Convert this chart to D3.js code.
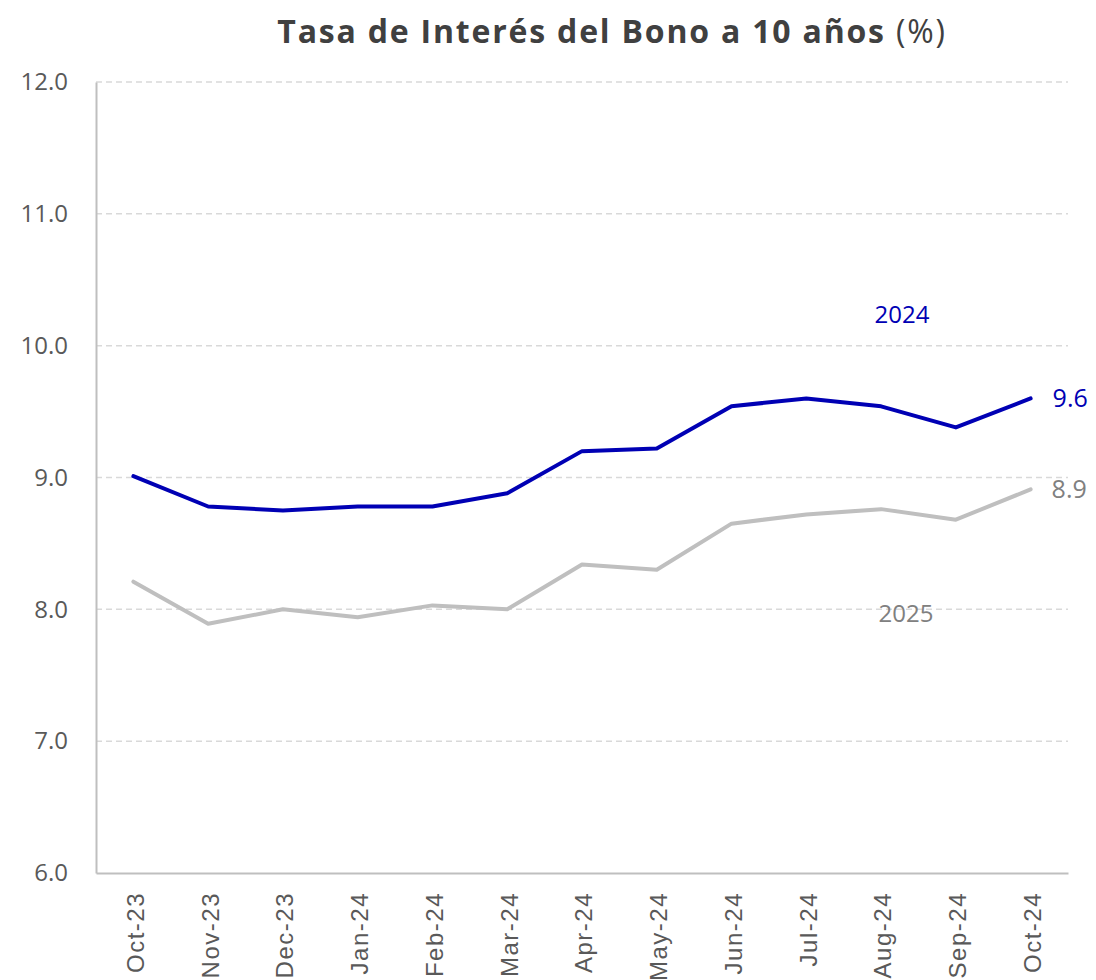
<!DOCTYPE html>
<html>
<head>
<meta charset="utf-8">
<script src="https://cdn.jsdelivr.net/npm/d3@7"></script>
<style>
  body { margin: 0; background: #fff; }
  svg { display: block; }
</style>
</head>
<body>
<script>
var width = 1096, height = 980;

var months = ["Oct-23", "Nov-23", "Dec-23", "Jan-24", "Feb-24", "Mar-24", "Apr-24",
              "May-24", "Jun-24", "Jul-24", "Aug-24", "Sep-24", "Oct-24"];
var serie2024 = [9.01, 8.78, 8.75, 8.78, 8.78, 8.88, 9.20, 9.22, 9.54, 9.60, 9.54, 9.38, 9.60];
var serie2025 = [8.21, 7.89, 8.00, 7.94, 8.03, 8.00, 8.34, 8.30, 8.65, 8.72, 8.76, 8.68, 8.91];
var yTicks = [6, 7, 8, 9, 10, 11, 12];

var margin = { left: 96, right: 28, top: 82, bottom: 107 };
var font = "'Open Sans', Lato, sans-serif";

var x = d3.scaleBand()
    .domain(months)
    .range([margin.left, width - margin.right]);

var y = d3.scaleLinear()
    .domain([6, 12])
    .range([height - margin.bottom, margin.top]);

var svg = d3.select("body").append("svg")
    .attr("width", width)
    .attr("height", height);

// title
var title = svg.append("text")
    .attr("x", 612)
    .attr("y", 43)
    .attr("text-anchor", "middle")
    .attr("font-family", font)
    .attr("font-size", 32)
    .attr("letter-spacing", 1.8)
    .attr("fill", "#404040");
title.append("tspan").attr("font-weight", "bold").text("Tasa de Interés del Bono a 10 años");
title.append("tspan").text(" (%)");

// gridlines
svg.append("g")
    .selectAll("line")
    .data(yTicks.slice(1))
    .enter().append("line")
    .attr("x1", margin.left)
    .attr("x2", width - margin.right)
    .attr("y1", function(d) { return y(d); })
    .attr("y2", function(d) { return y(d); })
    .attr("stroke", "#d9d9d9")
    .attr("stroke-width", 1.5)
    .attr("stroke-dasharray", "6,4");

// y axis
var yAxis = svg.append("g")
    .attr("transform", "translate(" + margin.left + ",0)")
    .call(d3.axisLeft(y).tickValues(yTicks).tickFormat(d3.format(".1f")).tickSize(0).tickPadding(28));
yAxis.select(".domain").attr("stroke", "#bfbfbf").attr("stroke-width", 2);
yAxis.selectAll("text")
    .attr("font-family", font)
    .attr("font-size", 24)
    .attr("fill", "#595959");

// x axis
var xAxis = svg.append("g")
    .attr("transform", "translate(0," + (height - margin.bottom) + ")")
    .call(d3.axisBottom(x).tickSize(0).tickSizeOuter(0));
xAxis.select(".domain").attr("stroke", "#bfbfbf").attr("stroke-width", 2);
xAxis.selectAll("text")
    .attr("font-family", "'Liberation Sans', Arial, sans-serif")
    .attr("font-size", 24)
    .attr("letter-spacing", 1.5)
    .attr("fill", "#595959")
    .attr("transform", "rotate(-90)")
    .attr("text-anchor", "end")
    .attr("x", -19)
    .attr("y", 2)
    .attr("dy", "0.35em");

var line = d3.line()
    .x(function(d, i) { return x(months[i]) + x.bandwidth() / 2; })
    .y(function(d) { return y(d); });

svg.append("path")
    .datum(serie2025)
    .attr("fill", "none")
    .attr("stroke", "#bfbfbf")
    .attr("stroke-width", 4)
    .attr("stroke-linecap", "round")
    .attr("stroke-linejoin", "round")
    .attr("d", line);

svg.append("path")
    .datum(serie2024)
    .attr("fill", "none")
    .attr("stroke", "#0000b4")
    .attr("stroke-width", 4)
    .attr("stroke-linecap", "round")
    .attr("stroke-linejoin", "round")
    .attr("d", line);

// labels
var last = months.length - 1;
var xLast = x(months[last]) + x.bandwidth() / 2;

svg.append("text")
    .attr("x", xLast + 22)
    .attr("y", y(serie2024[last]) + 9)
    .attr("font-family", font)
    .attr("font-size", 25)
    .attr("fill", "#0000b4")
    .text(d3.format(".1f")(serie2024[last]));

svg.append("text")
    .attr("x", xLast + 21)
    .attr("y", y(serie2025[last]) + 9)
    .attr("font-family", font)
    .attr("font-size", 25)
    .attr("fill", "#808080")
    .text(d3.format(".1f")(serie2025[last]));

svg.append("text")
    .attr("x", 902)
    .attr("y", 323)
    .attr("text-anchor", "middle")
    .attr("font-family", font)
    .attr("font-size", 24)
    .attr("fill", "#0000b4")
    .text("2024");

svg.append("text")
    .attr("x", 906)
    .attr("y", 622)
    .attr("text-anchor", "middle")
    .attr("font-family", font)
    .attr("font-size", 24)
    .attr("fill", "#808080")
    .text("2025");
</script>
</body>
</html>
